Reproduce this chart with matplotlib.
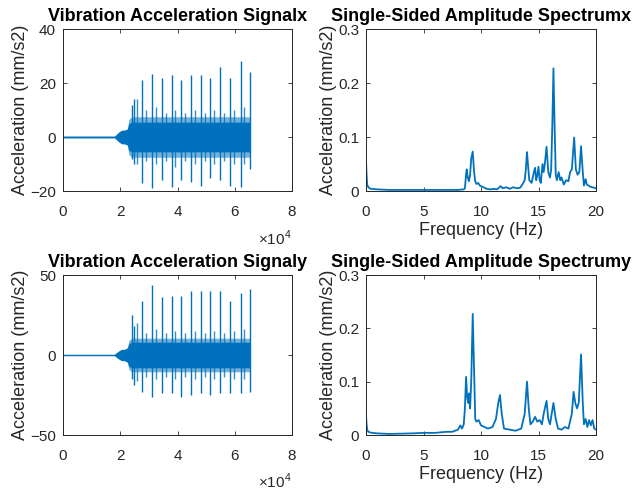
import numpy as np
import matplotlib
matplotlib.use('Agg')
import matplotlib.pyplot as plt

plt.rcParams['font.family'] = ['Liberation Sans', 'DejaVu Sans']
plt.rcParams['mathtext.fontset'] = 'custom'
plt.rcParams['mathtext.rm'] = 'Liberation Sans'

# time signals (x axis in units of 1e4 samples)
spike_t = [2.40, 2.48, 2.77, 3.12, 3.47, 3.80, 4.13, 4.48, 4.81, 5.14, 5.49, 5.84, 6.21, 6.54]
spike_x_hi = [12, 14, 21, 23.5, 22, 23, 21, 23, 23, 22, 26, 22, 28, 24]
spike_x_lo = [-8, -10, -17, -19, -16, -18.5, -16, -16.5, -18, -15, -16, -18, -18.5, -12]
spike_y_hi = [25, 18, 34, 44, 36, 37, 37, 40, 40, 40, 40, 34, 39, 41]
spike_y_lo = [-15, -19, -23, -26, -24, -24, -26, -25, -24, -25, -24, -24, -24, -23]

sec_t = [2.58, 2.90, 3.25, 3.60, 3.93, 4.27, 4.62, 4.95, 5.28, 5.62, 5.97, 6.34]
sec_x_hi = [14, 10, 11, 9, 10, 9, 10, 9, 10, 9, 10, 11]
sec_x_lo = [-10, -9, -10, -9, -11, -9, -10, -9, -10, -9, -10, -10]
sec_y_hi = [20, 14, 16, 14, 15, 14, 15, 14, 15, 14, 15, 16]
sec_y_lo = [-16, -14, -15, -14, -15, -14, -15, -14, -15, -14, -15, -15]

env_t = [0, 1.80, 1.85, 1.95, 2.05, 2.15, 2.25, 2.30, 2.40, 6.55]
env_x = [0.3, 0.3, 0.8, 1.8, 2.5, 2.5, 3.0, 5.0, 5.5, 5.5]
env_x_outer = [0.3, 0.3, 0.8, 1.8, 2.5, 2.5, 3.0, 6.5, 7.5, 7.5]
env_y = [0.4, 0.4, 1.2, 2.5, 3.5, 3.5, 4.5, 7.0, 8.0, 8.0]
env_y_outer = [0.4, 0.4, 1.2, 2.5, 3.5, 3.5, 4.5, 9.0, 10.5, 10.5]

# single-sided amplitude spectra
freq_x = [0.0, 0.05, 0.1, 0.2, 0.4, 1.0, 2.0, 4.0, 6.0, 8.0, 8.5, 8.6, 8.7, 8.76, 8.85, 8.95,
          9.05, 9.15, 9.28, 9.4, 9.5, 9.6, 9.75, 9.9, 10.1, 10.3, 10.5, 10.8, 11.1, 11.4, 11.7,
          11.9, 12.2, 12.5, 12.8, 13.1, 13.4, 13.6, 13.8, 13.9, 14.0, 14.1, 14.2, 14.4, 14.55,
          14.7, 14.8, 14.9, 15.0, 15.1, 15.2, 15.35, 15.45, 15.55, 15.7, 15.85, 16.0, 16.1, 16.2,
          16.3, 16.4, 16.5, 16.6, 16.75, 16.9, 17.0, 17.2, 17.4, 17.6, 17.75, 17.9, 18.1, 18.25,
          18.4, 18.55, 18.7, 18.85, 18.95, 19.1, 19.2, 19.5, 20.0]
amp_x = [0.057, 0.03, 0.012, 0.007, 0.004, 0.003, 0.002, 0.002, 0.002, 0.002, 0.003, 0.005, 0.03,
         0.040, 0.025, 0.018, 0.03, 0.06, 0.073, 0.035, 0.018, 0.013, 0.015, 0.01, 0.008, 0.006,
         0.004, 0.003, 0.004, 0.003, 0.009, 0.005, 0.007, 0.004, 0.007, 0.005, 0.006, 0.012, 0.02,
         0.04, 0.072, 0.045, 0.02, 0.015, 0.03, 0.043, 0.02, 0.03, 0.045, 0.02, 0.015, 0.05, 0.035,
         0.05, 0.082, 0.035, 0.025, 0.04, 0.12, 0.227, 0.12, 0.03, 0.02, 0.035, 0.02, 0.025, 0.012,
         0.02, 0.018, 0.035, 0.04, 0.099, 0.04, 0.03, 0.035, 0.083, 0.035, 0.01, 0.022, 0.012,
         0.008, 0.005]

freq_y = [0.0, 0.05, 0.1, 0.2, 0.5, 1, 2, 4, 5, 6, 7, 7.5, 8.0, 8.2, 8.35, 8.5, 8.6, 8.7, 8.8, 8.9,
          8.96, 9.05, 9.15, 9.28, 9.4, 9.5, 9.6, 9.8, 10.0, 10.3, 10.6, 11.0, 11.3, 11.5, 11.65,
          11.8, 12.0, 12.5, 13.0, 13.5, 13.8, 14.0, 14.15, 14.3, 14.5, 14.7, 14.9, 15.1, 15.3,
          15.45, 15.7, 15.85, 16.0, 16.3, 16.5, 16.7, 17.0, 17.3, 17.6, 17.9, 18.05, 18.2, 18.35,
          18.5, 18.7, 18.85, 18.95, 19.1, 19.25, 19.4, 19.55, 19.7, 19.85, 20.0]
amp_y = [0.037, 0.02, 0.01, 0.006, 0.004, 0.003, 0.002, 0.003, 0.004, 0.004, 0.006, 0.006, 0.01,
         0.018, 0.012, 0.02, 0.05, 0.109, 0.07, 0.06, 0.078, 0.05, 0.1, 0.227, 0.12, 0.03, 0.025,
         0.028, 0.018, 0.015, 0.012, 0.015, 0.03, 0.06, 0.075, 0.04, 0.012, 0.01, 0.008, 0.012,
         0.04, 0.10, 0.05, 0.02, 0.025, 0.034, 0.025, 0.028, 0.02, 0.04, 0.064, 0.03, 0.02, 0.06,
         0.03, 0.012, 0.01, 0.015, 0.012, 0.04, 0.081, 0.06, 0.05, 0.06, 0.151, 0.06, 0.02, 0.03,
         0.015, 0.028, 0.018, 0.028, 0.012, 0.01]

blue = '#0072BD'
grey = '#262626'

fig = plt.figure(figsize=(6.38, 4.94), dpi=100)
W, H = 638, 494
def box(l, t, r, b):
    return [l / W, 1 - b / H, (r - l) / W, (b - t) / H]

ax1 = fig.add_axes(box(63, 29, 292, 191))
ax2 = fig.add_axes(box(366, 29, 596, 191))
ax3 = fig.add_axes(box(63, 275, 292, 435))
ax4 = fig.add_axes(box(366, 275, 596, 435))

def time_plot(ax, env, env_out, hi, lo, shi, slo, title, ylim, yticks):
    env = np.array(env)
    env_out = np.array(env_out)
    ax.fill_between(env_t, env_out, -env_out, color=blue, lw=0, alpha=0.55)
    ax.fill_between(env_t, env, -env, color=blue, lw=0)
    ax.plot([0, env_t[-1]], [0, 0], color=blue, lw=0.8)
    ax.vlines(sec_t, slo, shi, color=blue, lw=1.0, alpha=0.8)
    ax.vlines(spike_t, lo, hi, color=blue, lw=1.0)
    ax.set_xlim(0, 8)
    ax.set_ylim(*ylim)
    ax.set_xticks([0, 2, 4, 6, 8])
    ax.set_yticks(yticks)
    ax.set_title(title, fontsize=13, fontweight='bold', pad=6)
    ax.text(1.0, -0.29, r'$\times10^{4}$', transform=ax.transAxes, ha='right', va='center',
            fontsize=11, color=grey)

def spec_plot(ax, f, a, title):
    ax.plot(f, a, color=blue, lw=1.3)
    ax.set_xlim(0, 20)
    ax.set_ylim(0, 0.3)
    ax.set_xticks([0, 5, 10, 15, 20])
    ax.set_yticks([0, 0.1, 0.2, 0.3])
    ax.set_yticklabels(['0', '0.1', '0.2', '0.3'])
    ax.set_xlabel('Frequency (Hz)', fontsize=13, color=grey, labelpad=2)
    ax.set_title(title, fontsize=13, fontweight='bold', pad=6)

time_plot(ax1, env_x, env_x_outer, spike_x_hi, spike_x_lo, sec_x_hi, sec_x_lo,
          'Vibration Acceleration Signalx', (-20, 40), [-20, 0, 20, 40])
time_plot(ax3, env_y, env_y_outer, spike_y_hi, spike_y_lo, sec_y_hi, sec_y_lo,
          'Vibration Acceleration Signaly', (-50, 50), [-50, 0, 50])
spec_plot(ax2, freq_x, amp_x, 'Single-Sided Amplitude Spectrumx')
spec_plot(ax4, freq_y, amp_y, 'Single-Sided Amplitude Spectrumy')

for ax in [ax1, ax2, ax3, ax4]:
    ax.set_ylabel('Acceleration (mm/s2)', fontsize=13, color=grey, labelpad=1)
    ax.tick_params(direction='in', top=True, right=True, length=3, labelsize=11,
                   colors=grey, width=0.6, pad=5)
    ax.tick_params(axis='x', pad=10)
    for s in ax.spines.values():
        s.set_color(grey)
        s.set_linewidth(0.7)

fig.savefig('out.png', dpi=100)
